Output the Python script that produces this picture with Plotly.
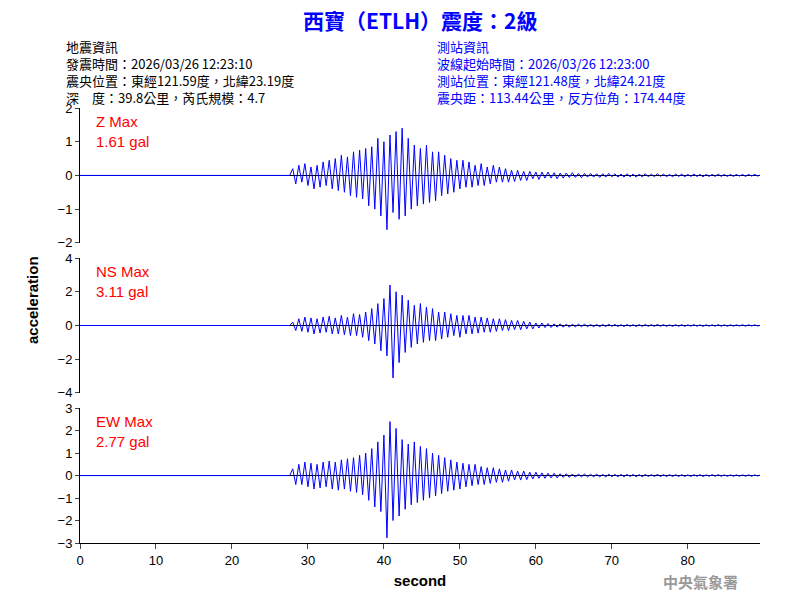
import plotly.graph_objects as go
from plotly.subplots import make_subplots

dt = 0.4
t0 = 28.0
z_vals = [0.2,-0.25,0.3,-0.2,0.35,-0.3,0.25,-0.4,0.3,-0.35,0.4,-0.3,0.45,-0.4,0.5,-0.45,0.6,-0.5,0.55,-0.6,0.7,-0.65,0.75,-0.7,0.8,
 -0.9,0.85,-1.0,1.1,-1.2,1.0,-1.61,1.2,-1.1,1.3,-1.3,1.4,-1.2,1.1,-1.0,0.9,-0.9,0.8,-0.85,0.9,-0.8,0.7,-0.75,0.7,-0.6,
 0.6,-0.55,0.5,-0.5,0.45,-0.4,0.45,-0.35,0.4,-0.35,0.3,-0.3,0.35,-0.3,0.25,-0.25,0.3,-0.2,0.25,-0.2,0.2,-0.2,0.15,-0.18,0.15,
 -0.15,0.12,-0.15,0.12,-0.1,0.1,-0.12,0.1,-0.08,0.1,-0.08,0.08,-0.1,0.07,-0.08,0.07,-0.06,0.08,-0.06,0.06,-0.07,0.06,-0.05,0.06,-0.05,
 0.05,-0.06,0.05,-0.05,0.06,-0.04,0.05,-0.05,0.04,-0.05,0.05,-0.04,0.04,-0.05,0.04,-0.04,0.05,-0.04,0.04,-0.04,0.05,-0.03,0.04,-0.04,0.03,
 -0.04,0.04,-0.03,0.04,-0.04,0.03,-0.03,0.04,-0.03,0.03,-0.04,0.03,-0.03,0.03,-0.03,0.04,-0.03,0.03,-0.03,0.03,-0.03,0.03,-0.02,0.03,-0.03,
 0.03,-0.02,0.03,-0.02,0.02]
ns_vals = [0.2,-0.3,0.4,-0.35,0.5,-0.4,0.45,-0.5,0.4,-0.45,0.5,-0.4,0.55,-0.5,0.45,-0.5,0.6,-0.55,0.5,-0.6,0.7,-0.6,0.65,-0.7,0.8,
 -0.9,1.0,-1.1,1.3,-1.5,1.6,-1.8,2.4,-3.11,2.0,-2.2,1.8,-1.6,1.5,-1.3,1.2,-1.1,1.3,-1.0,1.1,-0.9,1.0,-0.9,0.8,-0.8,
 0.8,-0.7,0.7,-0.6,0.6,-0.7,0.6,-0.5,0.6,-0.5,0.5,-0.45,0.5,-0.4,0.45,-0.4,0.4,-0.35,0.4,-0.3,0.35,-0.3,0.3,-0.25,0.3,
 -0.25,0.25,-0.2,0.2,-0.2,0.15,-0.15,0.15,-0.12,0.12,-0.12,0.1,-0.1,0.1,-0.1,0.08,-0.1,0.08,-0.08,0.08,-0.07,0.08,-0.07,0.06,-0.07,
 0.06,-0.07,0.06,-0.06,0.07,-0.05,0.06,-0.06,0.05,-0.06,0.06,-0.05,0.05,-0.06,0.05,-0.05,0.06,-0.05,0.05,-0.05,0.06,-0.04,0.05,-0.05,0.04,
 -0.05,0.05,-0.04,0.05,-0.05,0.04,-0.04,0.05,-0.04,0.04,-0.05,0.04,-0.04,0.04,-0.04,0.05,-0.04,0.04,-0.04,0.04,-0.04,0.04,-0.03,0.04,-0.04,
 0.04,-0.03,0.04,-0.03,0.03]
ew_vals = [0.3,-0.4,0.5,-0.4,0.6,-0.5,0.55,-0.6,0.5,-0.55,0.6,-0.5,0.65,-0.6,0.6,-0.65,0.7,-0.6,0.75,-0.7,0.8,-0.75,0.9,-0.85,1.0,
 -1.1,1.2,-1.4,1.5,-1.6,1.8,-2.77,2.4,-2.0,2.1,-1.8,1.6,-1.5,1.4,-1.3,1.5,-1.2,1.3,-1.1,1.2,-1.0,1.0,-0.9,0.9,-0.8,
 0.8,-0.7,0.7,-0.65,0.6,-0.6,0.55,-0.5,0.5,-0.45,0.5,-0.4,0.4,-0.4,0.35,-0.35,0.35,-0.3,0.3,-0.3,0.25,-0.25,0.25,-0.2,0.2,
 -0.2,0.2,-0.18,0.15,-0.15,0.15,-0.12,0.12,-0.12,0.1,-0.1,0.1,-0.1,0.08,-0.08,0.08,-0.08,0.07,-0.07,0.07,-0.06,0.07,-0.06,0.06,-0.06,
 0.06,-0.06,0.05,-0.06,0.06,-0.05,0.05,-0.05,0.05,-0.05,0.05,-0.04,0.05,-0.05,0.04,-0.05,0.05,-0.04,0.04,-0.04,0.05,-0.04,0.04,-0.04,0.04,
 -0.04,0.04,-0.04,0.04,-0.04,0.03,-0.04,0.04,-0.03,0.04,-0.04,0.03,-0.03,0.04,-0.03,0.04,-0.03,0.03,-0.03,0.03,-0.03,0.03,-0.03,0.03,-0.03,
 0.03,-0.03,0.03,-0.02,0.03]
series = [("Z", z_vals, 1.61, [-2, 2], 1), ("NS", ns_vals, 3.11, [-4, 4], 2), ("EW", ew_vals, 2.77, [-3, 3], 1)]

fig = make_subplots(rows=3, cols=1, vertical_spacing=0.035)
F = "Liberation Sans, Arial"
for i, (name, vals, mx, rng, dtk) in enumerate(series, start=1):
    t = [0.0, t0 - dt] + [t0 + dt * k for k in range(len(vals))]
    y = [0.0, 0.0] + vals
    fig.add_trace(go.Scatter(x=t, y=y, mode="lines", line=dict(color="#0000ff", width=1), showlegend=False), row=i, col=1)
    fig.update_yaxes(range=rng, dtick=dtk, showgrid=False, zeroline=True, zerolinecolor="black", zerolinewidth=1,
                     showline=True, linecolor="black", ticks="outside", ticklen=4,
                     tickfont=dict(family=F, size=13, color="black"), row=i, col=1)
    fig.update_xaxes(range=[0, 89.5], showgrid=False, zeroline=False, showline=(i == 3), linecolor="black",
                     ticks="outside" if i == 3 else "", showticklabels=(i == 3), dtick=10,
                     tickfont=dict(family=F, size=13, color="black"), row=i, col=1)
    xr = "x domain" if i == 1 else f"x{i} domain"
    yr = "y domain" if i == 1 else f"y{i} domain"
    fig.add_annotation(x=0.02, y=0.98, xref=xr, yref=yr, xanchor="left", yanchor="top", align="left", showarrow=False,
                       text=f"{name} Max<br>{mx} gal", font=dict(family=F, size=15, color="red"))

fig.update_xaxes(title=dict(text="<b>second</b>", font=dict(family=F, size=15, color="black"), standoff=8), row=3, col=1)
C = "Noto Sans CJK TC"
def px(x): return (x - 80) / 680
def py(y): return (543 - y) / 435
fig.add_annotation(x=0.5, y=py(20), xref="paper", yref="paper", xanchor="center", yanchor="middle", showarrow=False,
                   text="<b>西寶（ETLH）震度：2級</b>", font=dict(family=C, size=21, color="#0000ff"))
left = "地震資訊<br>發震時間：2026/03/26 12:23:10<br>震央位置：東經121.59度，北緯23.19度<br>深　度：39.8公里，芮氏規模：4.7"
right = "測站資訊<br>波線起始時間：2026/03/26 12:23:00<br>測站位置：東經121.48度，北緯24.21度<br>震央距：113.44公里，反方位角：174.44度"
fig.add_annotation(x=px(64), y=py(35), xref="paper", yref="paper", xanchor="left", yanchor="top", align="left",
                   showarrow=False, text=left, font=dict(family=C, size=13, color="black"))
fig.add_annotation(x=px(435), y=py(35), xref="paper", yref="paper", xanchor="left", yanchor="top", align="left",
                   showarrow=False, text=right, font=dict(family=C, size=13, color="#0000ff"))
fig.add_annotation(x=px(32), y=py(300), xref="paper", yref="paper", xanchor="center", yanchor="middle", textangle=-90,
                   showarrow=False, text="<b>acceleration</b>", font=dict(family=F, size=15, color="black"))
fig.add_annotation(x=px(700), y=py(581), xref="paper", yref="paper", xanchor="center", yanchor="middle", showarrow=False,
                   text="<b>中央氣象署</b>", font=dict(family=C, size=15, color="#999999"))
fig.update_layout(width=800, height=600, margin=dict(l=72, r=48, t=100, b=65, autoexpand=False),
                  plot_bgcolor="white", paper_bgcolor="white")
fig.write_html("out.html")
